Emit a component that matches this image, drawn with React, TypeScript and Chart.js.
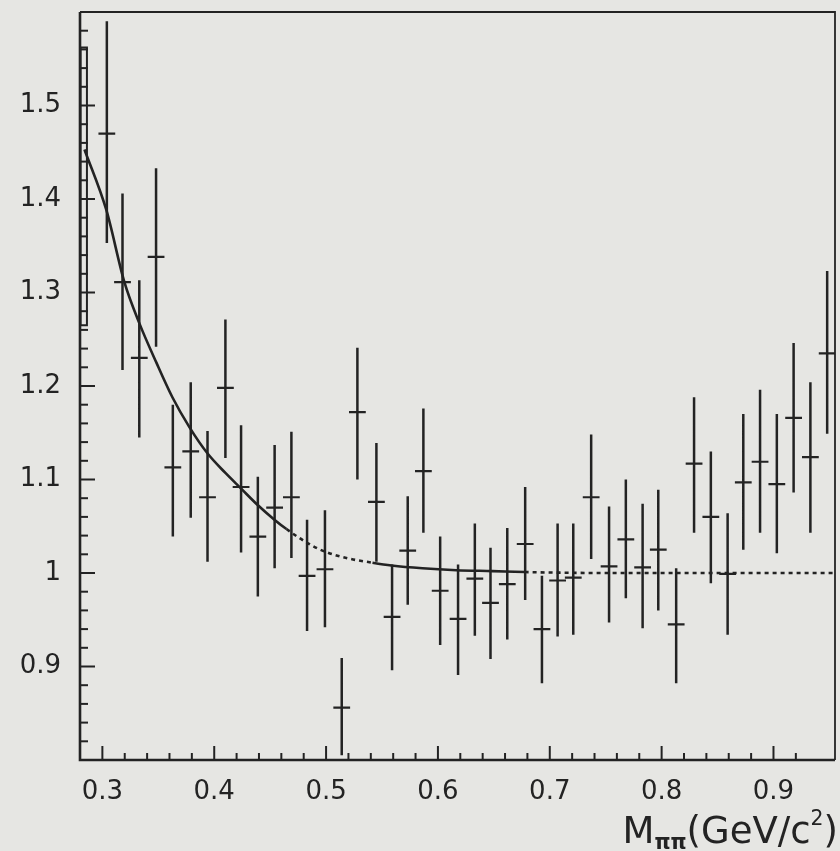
import React, { useEffect, useRef } from 'react';
import { Chart, registerables } from 'chart.js';

Chart.register(...registerables);

// ---- data ----
const binCenters = [
  0.304, 0.318, 0.333, 0.348, 0.363, 0.379, 0.394, 0.410, 0.424, 0.439,
  0.454, 0.469, 0.483, 0.499, 0.514, 0.528, 0.545, 0.559, 0.573, 0.587,
  0.602, 0.618, 0.633, 0.647, 0.662, 0.678, 0.693, 0.707, 0.721, 0.737,
  0.753, 0.768, 0.783, 0.797, 0.813, 0.829, 0.844, 0.859, 0.873, 0.888,
  0.903, 0.918, 0.933, 0.948,
];
const values = [
  1.470, 1.311, 1.230, 1.338, 1.113, 1.130, 1.081, 1.198, 1.092, 1.039,
  1.070, 1.081, 0.997, 1.004, 0.856, 1.172, 1.076, 0.953, 1.024, 1.109,
  0.981, 0.951, 0.994, 0.968, 0.988, 1.031, 0.940, 0.992, 0.995, 1.081,
  1.007, 1.036, 1.006, 1.025, 0.945, 1.117, 1.060, 0.999, 1.097, 1.119,
  1.095, 1.166, 1.124, 1.235,
];
const errHigh = [
  1.590, 1.406, 1.313, 1.433, 1.180, 1.204, 1.152, 1.271, 1.158, 1.103,
  1.137, 1.151, 1.057, 1.067, 0.909, 1.241, 1.139, 1.009, 1.082, 1.176,
  1.039, 1.009, 1.053, 1.027, 1.048, 1.092, 0.997, 1.053, 1.053, 1.148,
  1.071, 1.100, 1.074, 1.089, 1.005, 1.188, 1.130, 1.064, 1.170, 1.196,
  1.170, 1.246, 1.204, 1.323,
];
const errLow = [
  1.353, 1.217, 1.145, 1.242, 1.039, 1.059, 1.012, 1.123, 1.022, 0.975,
  1.005, 1.016, 0.938, 0.942, 0.805, 1.100, 1.012, 0.896, 0.966, 1.043,
  0.923, 0.891, 0.933, 0.908, 0.929, 0.971, 0.882, 0.932, 0.934, 1.015,
  0.947, 0.973, 0.941, 0.960, 0.882, 1.043, 0.989, 0.934, 1.025, 1.043,
  1.021, 1.086, 1.043, 1.149,
];
const binHalfWidth = 0.0075;

// fitted curve
const curveX = [
  0.284, 0.3036, 0.3197, 0.3331, 0.3483, 0.3626, 0.3778, 0.3939, 0.41, 0.4243,
  0.4386, 0.4538, 0.4646, 0.4834, 0.4986, 0.5182, 0.5415, 0.5585, 0.5862,
  0.6166, 0.6488, 0.6775, 0.75, 0.85, 0.955,
];
const curveY = [
  1.453, 1.388, 1.311, 1.267, 1.225, 1.188, 1.156, 1.128, 1.107, 1.090,
  1.073, 1.057, 1.047, 1.032, 1.023, 1.016, 1.011, 1.008, 1.005,
  1.003, 1.002, 1.001, 1.0, 1.0, 1.0,
];
// dotted parts of the curve (x ranges)
const dottedRanges = [
  [0.4646, 0.5415],
  [0.6775, 1.0],
];

// left-edge box
const boxX = [0.2805, 0.2862];
const boxY = [1.265, 1.562];

const xTickLabels = ['0.3', '0.4', '0.5', '0.6', '0.7', '0.8', '0.9'];
const yTickLabels = ['0.9', '1', '1.1', '1.2', '1.3', '1.4', '1.5'];

const X_MIN = 0.28;
const X_MAX = 0.955;
const Y_MIN = 0.8;
const Y_MAX = 1.6;

const INK = '#232323';
const PAPER = '#e6e6e3';
const FONT = "'DejaVu Sans', sans-serif";

const isMultiple = (v: number, step: number) =>
  Math.abs(v / step - Math.round(v / step)) < 1e-6;

function labelFor(v: number, labels: string[]) {
  if (!isMultiple(v, 0.1)) return '';
  const s = Math.abs(v - 1) < 1e-6 ? '1' : v.toFixed(1);
  return labels.includes(s) ? s : '';
}

export default function App() {
  const ref = useRef<HTMLCanvasElement>(null);

  useEffect(() => {
    if (!ref.current) return;

    const vertBars: any[] = [];
    const horzBars: any[] = [];
    binCenters.forEach((x, i) => {
      vertBars.push({ x, y: errLow[i] }, { x, y: errHigh[i] }, { x, y: null });
      horzBars.push(
        { x: x - binHalfWidth, y: values[i] },
        { x: x + binHalfWidth, y: values[i] },
        { x: x + binHalfWidth, y: null },
      );
    });
    const curve = curveX.map((x, i) => ({ x, y: curveY[i] }));
    const box = [
      { x: boxX[0], y: boxY[0] },
      { x: boxX[1], y: boxY[0] },
      { x: boxX[1], y: boxY[1] },
      { x: boxX[0], y: boxY[1] },
      { x: boxX[0], y: boxY[0] },
    ];

    const inDotted = (x: number) =>
      dottedRanges.some(([a, b]) => x >= a - 1e-9 && x < b - 1e-9);

    const paperPlugin = {
      id: 'paper',
      beforeDraw(chart: any) {
        const { ctx, width, height } = chart;
        ctx.save();
        ctx.fillStyle = PAPER;
        ctx.fillRect(0, 0, width, height);
        ctx.restore();
      },
    };

    const framePlugin = {
      id: 'frame',
      afterDatasetsDraw(chart: any) {
        const { ctx, chartArea: a } = chart;
        const xs = chart.scales.x;
        const ys = chart.scales.y;
        ctx.save();
        ctx.strokeStyle = INK;
        ctx.lineCap = 'butt';
        ctx.lineWidth = 1.8;
        ctx.beginPath();
        ctx.moveTo(a.left, a.top);
        ctx.lineTo(a.right, a.top);
        ctx.lineTo(a.right, a.bottom);
        ctx.stroke();
        ctx.lineWidth = 2.6;
        ctx.beginPath();
        ctx.moveTo(a.left, a.top);
        ctx.lineTo(a.left, a.bottom);
        ctx.lineTo(a.right, a.bottom);
        ctx.stroke();
        ctx.lineWidth = 2;
        xs.ticks.forEach((t: any) => {
          const px = xs.getPixelForValue(t.value);
          if (px <= a.left + 2 || px >= a.right - 2) return;
          const len = isMultiple(t.value, 0.1) ? 14 : 7;
          ctx.beginPath();
          ctx.moveTo(px, a.bottom);
          ctx.lineTo(px, a.bottom - len);
          ctx.stroke();
        });
        ys.ticks.forEach((t: any) => {
          const py = ys.getPixelForValue(t.value);
          if (py <= a.top + 2 || py >= a.bottom - 2) return;
          const len = isMultiple(t.value, 0.1) ? 15 : 8;
          ctx.beginPath();
          ctx.moveTo(a.left, py);
          ctx.lineTo(a.left + len, py);
          ctx.stroke();
        });
        ctx.restore();
      },
    };

    const chart = new Chart(ref.current, {
      type: 'line',
      data: {
        datasets: [
          {
            label: 'errors',
            data: vertBars,
            borderColor: INK,
            borderWidth: 2.5,
            pointRadius: 0,
            spanGaps: false,
            tension: 0,
          },
          {
            label: 'bins',
            data: horzBars,
            borderColor: INK,
            borderWidth: 2.2,
            pointRadius: 0,
            spanGaps: false,
            tension: 0,
          },
          {
            label: 'fit',
            data: curve,
            borderColor: INK,
            borderWidth: 2.6,
            pointRadius: 0,
            cubicInterpolationMode: 'monotone',
            segment: {
              borderDash: (ctx: any) => (inDotted(ctx.p0.parsed.x) ? [4, 4] : []),
            },
          },
          {
            label: 'box',
            data: box,
            borderColor: INK,
            borderWidth: 2,
            pointRadius: 0,
            tension: 0,
          },
        ],
      },
      options: {
        animation: false,
        responsive: false,
        devicePixelRatio: 1,
        layout: { padding: { top: 12, right: 5, left: 0, bottom: 0 } },
        plugins: {
          legend: { display: false },
          tooltip: { enabled: false },
          title: { display: false },
        },
        scales: {
          x: {
            type: 'linear',
            min: X_MIN,
            max: X_MAX,
            grid: { display: false, drawTicks: false },
            border: { display: false },
            ticks: {
              stepSize: 0.02,
              autoSkip: false,
              maxRotation: 0,
              padding: 17,
              color: INK,
              font: { family: FONT, size: 26 },
              callback: (v: any) => labelFor(Number(v), xTickLabels),
            },
            afterFit: (s: any) => {
              s.height = 91;
              s.paddingLeft = 0;
              s.paddingRight = 0;
            },
          },
          y: {
            type: 'linear',
            min: Y_MIN,
            max: Y_MAX,
            grid: { display: false, drawTicks: false },
            border: { display: false },
            ticks: {
              stepSize: 0.02,
              autoSkip: false,
              padding: 19,
              color: INK,
              font: { family: FONT, size: 26 },
              callback: (v: any) => labelFor(Number(v), yTickLabels),
            },
            afterFit: (s: any) => {
              s.width = 80;
              s.paddingTop = 0;
              s.paddingBottom = 0;
            },
          },
        },
      },
      plugins: [paperPlugin, framePlugin],
    });

    return () => chart.destroy();
  }, []);

  return (
    <div
      style={{
        position: 'absolute',
        left: 0,
        top: 0,
        width: 840,
        height: 851,
        overflow: 'hidden',
        background: PAPER,
      }}
    >
      <canvas ref={ref} width={840} height={851} style={{ display: 'block' }} />
      <div
        style={{
          position: 'absolute',
          right: 2,
          top: 812,
          height: 37,
          lineHeight: '37px',
          fontFamily: FONT,
          fontSize: 37,
          color: INK,
          whiteSpace: 'nowrap',
        }}
      >
        M
        <sub style={{ fontSize: '0.55em', verticalAlign: '-0.3em', lineHeight: 0, fontWeight: 'bold' }}>ππ</sub>
        (GeV/c
        <sup style={{ fontSize: '0.55em', verticalAlign: '0.9em', lineHeight: 0 }}>2</sup>)
      </div>
    </div>
  );
}
